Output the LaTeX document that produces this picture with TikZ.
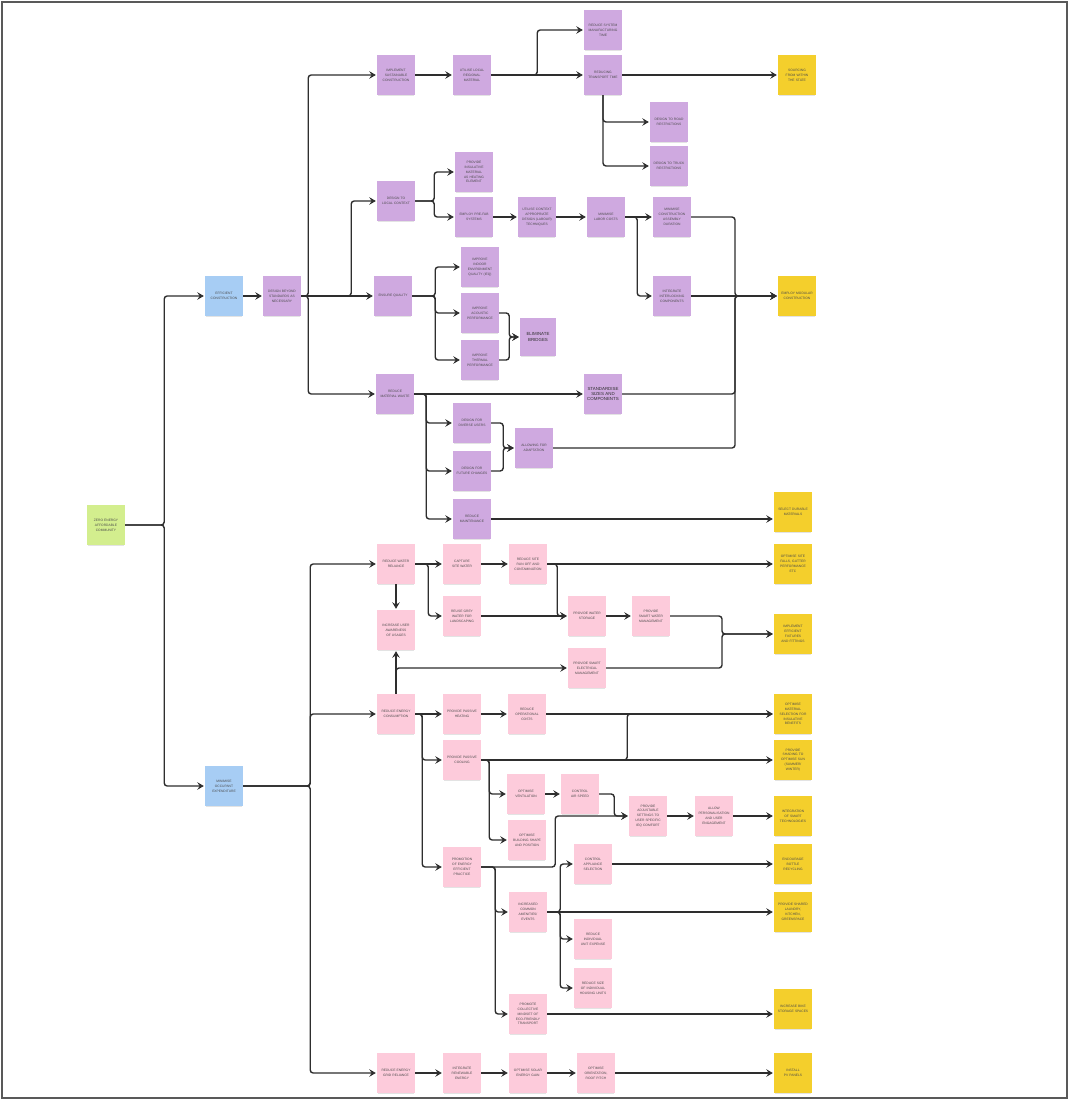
\documentclass[tikz,border=0pt]{standalone}
\usepackage{fontspec}
\setmainfont{Liberation Sans}
\usetikzlibrary{arrows.meta,shadows,calc}
\definecolor{pur}{HTML}{CFA9E0}
\definecolor{pnk}{HTML}{FDCBDB}
\definecolor{yel}{HTML}{F4CF2C}
\definecolor{blu}{HTML}{A7CDF4}
\definecolor{grn}{HTML}{D3EE8E}
\definecolor{ink}{HTML}{2E2E2E}
\definecolor{txt}{HTML}{4A4A4A}
\newcommand\nohyph{\hyphenpenalty 10000 \exhyphenpenalty 10000 \relax}
\newcommand\notefont{\fontsize{3.3}{4.9}\selectfont\nohyph}
\newcommand\bigfont{\fontsize{4.4}{5.4}\selectfont\nohyph}
\begin{document}
\begin{tikzpicture}[x=1pt,y=-1pt,
 note/.style={minimum width=38pt,minimum height=40pt,inner sep=0pt,text width=32pt,align=center,
   font=\notefont,text=txt,
   drop shadow={shadow xshift=0pt,shadow yshift=-1.6pt,opacity=0.22,shadow scale=0.97}},
 pn/.style={note,fill=pur},
 kn/.style={note,fill=pnk},
 yn/.style={note,fill=yel},
 bn/.style={note,fill=blu},
 gn/.style={note,fill=grn},
 big/.style={font=\bigfont,text=ink},
 arr/.style={draw=ink,line width=1.4pt,rounded corners=3pt,-{Stealth[length=6.5pt,width=7.5pt,inset=2.4pt]},shorten >=1pt}]
\fill[white] (0,0) rectangle (1068,1099);
\useasboundingbox (0,0) rectangle (1068,1099);
\draw[line width=2pt,draw=black!65] (1.5,2) rectangle (1066.5,1097.5);

% ---------- root and level 1
\node[gn] (zero) at (106,525) {ZERO ENERGY AFFORDABLE COMMUNITY};
\node[bn] (effc) at (224,296) {EFFICIENT CONSTRUCTION};
\node[bn] (minoc) at (224,786) {MINIMISE OCCUPANT EXPENDITURE};
\node[pn] (beyond) at (282,296) {DESIGN BEYOND STANDARDS AS NECESSARY};

% ---------- top purple section
\node[pn] (impl) at (396,75) {IMPLEMENT SUSTAINABLE CONSTRUCTION};
\node[pn] (util) at (472,75) {UTILISE LOCAL REGIONAL MATERIAL};
\node[pn] (rsmt) at (603,30) {REDUCE SYSTEM MANUFACTURING TIME};
\node[pn] (rtt) at (603,75) {REDUCING TRANSPORT TIME};
\node[yn,text width=28pt] (source) at (797,75) {SOURCING FROM WITHIN THE STATE};
\node[pn] (road) at (669,122) {DESIGN TO ROAD RESTRICTIONS};
\node[pn] (truck) at (669,166) {DESIGN TO TRUCK RESTRICTIONS};
\node[pn] (local) at (396,201) {DESIGN TO LOCAL CONTEXT};
\node[pn,text width=29pt] (ins) at (474,172) {PROVIDE INSULATIVE MATERIAL AS HEATING ELEMENT};
\node[pn] (prefab) at (474,217) {EMPLOY PRE-FAB SYSTEMS};
\node[pn] (ctx) at (537,217) {UTILISE CONTEXT APPROPRIATE DESIGN (LABOUR) TECHNIQUES};
\node[pn] (labor) at (606,217) {MINIMISE LABOR COSTS};
\node[pn] (mcad) at (672,217) {MINIMISE CONSTRUCTION ASSEMBLY DURATION};
\node[pn] (quality) at (393,296) {ENSURE QUALITY};
\node[pn,text width=29pt] (ieq) at (480,267) {IMPROVE INDOOR ENVIRONMENT QUALITY (IEQ)};
\node[pn] (acou) at (480,313) {IMPROVE ACOUSTIC PERFORMANCE};
\node[pn] (therm) at (480,360) {IMPROVE THERMAL PERFORMANCE};
\node[pn,big,minimum width=36pt,minimum height=38pt] (elim) at (538,337) {ELIMINATE BRIDGES};
\node[pn] (inter) at (672,296) {INTEGRATE INTERLOCKING COMPONENTS};
\node[yn] (modular) at (797,296) {EMPLOY MODULAR CONSTRUCTION};
\node[pn] (rmw) at (395,394) {REDUCE MATERIAL WASTE};
\node[pn,big,text width=33pt] (std) at (603,394) {STANDARDISE SIZES AND COMPONENTS};
\node[pn] (diverse) at (472,423) {DESIGN FOR DIVERSE USERS};
\node[pn] (future) at (472,471) {DESIGN FOR FUTURE CHANGES};
\node[pn] (adapt) at (534,448) {ALLOWING FOR ADAPTATION};
\node[pn] (maint) at (472,519) {REDUCE MAINTENANCE};
\node[yn] (durable) at (793,512) {SELECT DURABLE MATERIALS};

% ---------- bottom pink section
\node[kn] (rwr) at (396,564) {REDUCE WATER RELIANCE};
\node[kn] (csw) at (462,564) {CAPTURE SITE WATER};
\node[kn] (rsro) at (528,564) {REDUCE SITE RUN OFF AND CONTAMINATION};
\node[yn,text width=29pt] (falls) at (793,564) {OPTIMISE SITE FALLS, GUTTER PERFORMANCE ETC};
\node[kn] (aware) at (396,630) {INCREASE USER AWARENESS OF USAGES};
\node[kn] (grey) at (462,616) {REUSE GREY WATER FOR LANDSCAPING};
\node[kn] (wstore) at (587,616) {PROVIDE WATER STORAGE};
\node[kn] (swm) at (651,616) {PROVIDE SMART WATER MANAGEMENT};
\node[yn,text width=28pt] (fixtures) at (793,634) {IMPLEMENT EFFICIENT FIXTURES AND FITTINGS};
\node[kn] (sem) at (587,668) {PROVIDE SMART ELECTRICAL MANAGEMENT};
\node[kn] (rec) at (396,714) {REDUCE ENERGY CONSUMPTION};
\node[kn] (pheat) at (462,714) {PROVIDE PASSIVE HEATING};
\node[kn] (opcost) at (527,714) {REDUCE OPERATIONAL COSTS};
\node[yn] (optmat) at (793,714) {OPTIMISE MATERIAL SELECTION FOR INSULATIVE BENEFITS};
\node[kn] (pcool) at (462,760) {PROVIDE PASSIVE COOLING};
\node[yn,text width=29pt] (shading) at (793,760) {PROVIDE SHADING TO OPTIMISE SUN (SUMMER/ WINTER)};
\node[kn] (vent) at (526,794) {OPTIMISE VENTILATION};
\node[kn] (air) at (580,794) {CONTROL AIR SPEED};
\node[kn] (shape) at (527,840) {OPTIMISE BUILDING SHAPE AND POSITION};
\node[kn,text width=29pt] (adjust) at (648,816) {PROVIDE ADJUSTABLE SETTINGS TO USER SPECIFIC IEQ COMFORT};
\node[kn] (person) at (714,816) {ALLOW PERSONALISATION AND USER ENGAGEMENT};
\node[yn] (smart) at (793,816) {INTEGRATION OF SMART TECHNOLOGIES};
\node[kn,text width=29pt] (promo) at (462,867) {PROMOTION OF ENERGY EFFICIENT PRACTICE};
\node[kn] (appl) at (593,864) {CONTROL APPLIANCE SELECTION};
\node[yn,text width=28pt] (bottle) at (793,864) {ENCOURAGE BOTTLE RECYCLING};
\node[kn,text width=28pt] (amen) at (528,912) {INCREASED COMMON AMENITIES/ EVENTS};
\node[yn] (laundry) at (793,912) {PROVIDE SHARED LAUNDRY, KITCHEN, GREENSPACE};
\node[kn] (indiv) at (593,939) {REDUCE INDIVIDUAL UNIT EXPENSE};
\node[kn] (size) at (593,988) {REDUCE SIZE OF INDIVIDUAL HOUSING UNITS};
\node[kn] (collect) at (528,1014) {PROMOTE COLLECTIVE MINDSET OF ECO-FRIENDLY TRANSPORT};
\node[yn] (bike) at (793,1009) {INCREASE BIKE STORAGE SPACES};
\node[kn] (rgr) at (396,1073) {REDUCE ENERGY GRID RELIANCE};
\node[kn] (renew) at (462,1073) {INTEGRATE RENEWABLE ENERGY};
\node[kn] (solar) at (528,1073) {OPTIMISE SOLAR ENERGY GAIN};
\node[kn] (orient) at (596,1073) {OPTIMISE ORIENTATION, ROOF PITCH};
\node[yn,text width=26pt] (pv) at (793,1073) {INSTALL PV PANELS};

% merge points
\coordinate (mj) at (735,296);
\coordinate (fj) at (722,634);

% ---------- connectors: top
\draw[arr] (zero.east) -- ++(39,0) |- (effc.west);
\draw[arr] (zero.east) -- ++(39,0) |- (minoc.west);
\draw[arr] (effc) -- (beyond);
\draw[arr] (beyond.east) -- ++(7,0) |- (impl.west);
\draw[arr] (beyond.east) -- ++(7,0) |- (rmw.west);
\draw[arr] (beyond) -- (quality);
\draw[arr] (beyond.east) -- ++(50,0) |- (local.west);
\draw[arr] (impl) -- (util);
\draw[arr] (util) -- (rtt);
\draw[arr] (util.east) -- ++(46,0) |- (rsmt.west);
\draw[arr] (rtt) -- (source);
\draw[arr] (rtt.south) |- (road.west);
\draw[arr] (rtt.south) |- (truck.west);
\draw[arr] (local.east) -- ++(19,0) |- (ins.west);
\draw[arr] (local.east) -- ++(19,0) |- (prefab.west);
\draw[arr] (prefab) -- (ctx);
\draw[arr] (ctx) -- (labor);
\draw[arr] (labor) -- (mcad);
\draw[arr] (labor.east) -- ++(12,0) |- (inter.west);
\draw[arr] (mcad.east) -| (mj) -- (modular.west);
\draw[arr] (inter) -- (modular);
\draw[arr] (std.east) -| (mj) -- (modular.west);
\draw[arr] (adapt.east) -| (mj) -- (modular.west);
\draw[arr] (quality.east) -- ++(23,0) |- (ieq.west);
\draw[arr] (quality.east) -- ++(23,0) |- (acou.west);
\draw[arr] (quality.east) -- ++(23,0) |- (therm.west);
\draw[arr] (acou.east) -- ++(10,0) |- (elim.west);
\draw[arr] (therm.east) -- ++(10,0) |- (elim.west);
\draw[arr] (rmw) -- (std);
\draw[arr] (rmw.east) -- ++(12,0) |- (diverse.west);
\draw[arr] (rmw.east) -- ++(12,0) |- (future.west);
\draw[arr] (rmw.east) -- ++(12,0) |- (maint.west);
\draw[arr] (diverse.east) -- ++(12,0) |- (adapt.west);
\draw[arr] (future.east) -- ++(12,0) |- (adapt.west);
\draw[arr] (maint.east) -- (maint.east -| durable.west);

% ---------- connectors: bottom
\draw[arr] (minoc.east) -- ++(67,0) |- (rwr.west);
\draw[arr] (minoc.east) -- ++(67,0) |- (rec.west);
\draw[arr] (minoc.east) -- ++(67,0) |- (rgr.west);
\draw[arr] (rwr) -- (csw);
\draw[arr] (rwr.east) -- ++(13,0) |- (grey.west);
\draw[arr] (csw) -- (rsro);
\draw[arr] (rsro) -- (falls);
\draw[arr] (rsro.east) -- ++(10,0) |- (wstore.west);
\draw[arr] (grey) -- (wstore);
\draw[arr] (wstore) -- (swm);
\draw[arr] (swm.east) -| (fj) -- (fixtures.west);
\draw[arr] (sem.east) -| (fj) -- (fixtures.west);
\draw[arr] (rwr.south) -- (aware.north);
\draw[arr] (rec.north) -- (aware.south);
\draw[arr] (rec.north) |- (sem.west);
\draw[arr] (rec) -- (pheat);
\draw[arr] (rec.east) -- ++(7,0) |- (pcool.west);
\draw[arr] (rec.east) -- ++(7,0) |- (promo.west);
\draw[arr] (pheat) -- (opcost);
\draw[arr] (opcost) -- (optmat);
\draw[arr] (pcool) -- (shading);
\draw[arr] (pcool.east) -- ++(146,0) |- (optmat.west);
\draw[arr] (pcool.east) -- ++(8,0) |- (vent.west);
\draw[arr] (pcool.east) -- ++(8,0) |- (shape.west);
\draw[arr] (vent) -- (air);
\draw[arr] (air.east) -- ++(15,0) |- (adjust.west);
\draw[arr] (promo.east) -- ++(74,0) |- (adjust.west);
\draw[arr] (adjust) -- (person);
\draw[arr] (person) -- (smart);
\draw[arr] (promo.east) -- ++(14,0) |- (amen.west);
\draw[arr] (promo.east) -- ++(14,0) |- (collect.west);
\draw[arr] (amen.east) -- ++(13,0) |- (appl.west);
\draw[arr] (amen) -- (laundry);
\draw[arr] (amen.east) -- ++(13,0) |- (indiv.west);
\draw[arr] (amen.east) -- ++(13,0) |- (size.west);
\draw[arr] (appl) -- (bottle);
\draw[arr] (collect.east) -- (collect.east -| bike.west);
\draw[arr] (rgr) -- (renew);
\draw[arr] (renew) -- (solar);
\draw[arr] (solar) -- (orient);
\draw[arr] (orient) -- (pv);
\end{tikzpicture}
\end{document}
